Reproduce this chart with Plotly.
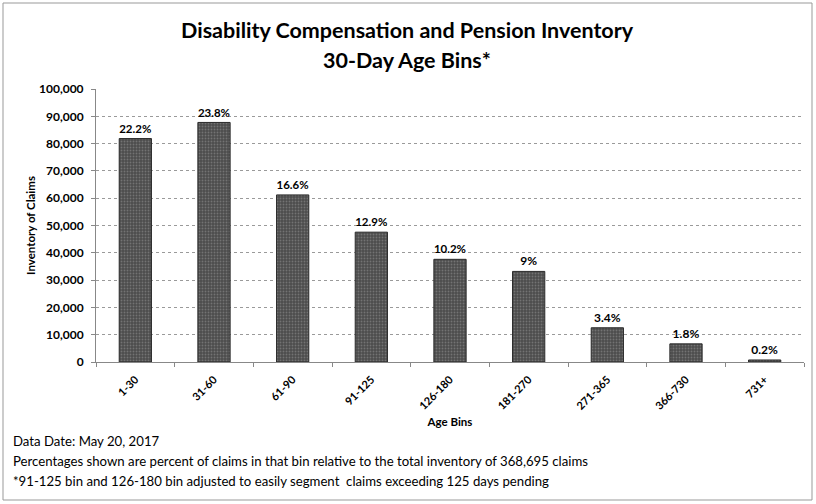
import plotly.graph_objects as go

categories = ["1-30", "31-60", "61-90", "91-125", "126-180", "181-270", "271-365", "366-730", "731+"]
claims = [81850, 87750, 61200, 47560, 37610, 33180, 12540, 6640, 740]
pct_labels = ["22.2%", "23.8%", "16.6%", "12.9%", "10.2%", "9%", "3.4%", "1.8%", "0.2%"]
y_ticks = list(range(0, 100001, 10000))
y_tick_labels = [f"{v:,}" for v in y_ticks]

W, H = 816, 504
L, R, T, B = 96, 12, 89, 142
pw, ph = W - L - R, H - T - B

def px_x(p):
    return (p - L) / pw

def px_y(p):
    return (H - B - p) / ph

FONT = "Lato"

fig = go.Figure(go.Bar(
    x=categories, y=claims, text=pct_labels, textposition="outside",
    textfont=dict(family=FONT, size=12, color="black", weight="bold"),
    cliponaxis=False, hoverinfo="skip",
    marker=dict(color="#5a5a5a", line=dict(color="#2a2a2a", width=1),
                pattern=dict(shape=".", fgcolor="#9a9a9a", bgcolor="#4c4c4c", size=3, solidity=0.3)),
))

fig.update_layout(
    width=W, height=H,
    margin=dict(l=L, r=R, t=T, b=B, autoexpand=False),
    paper_bgcolor="white", plot_bgcolor="white",
    bargap=0.59,
    showlegend=False,
    font=dict(family=FONT, color="black"),
)
fig.update_yaxes(
    range=[0, 100000], tickvals=y_ticks, ticktext=y_tick_labels,
    tickfont=dict(family=FONT, size=12, color="black", weight="bold"),
    showgrid=True, gridcolor="#9a9a9a", griddash="dot", gridwidth=1,
    showline=True, linecolor="#888888", linewidth=1,
    ticks="outside", ticklen=4, tickcolor="#888888",
    ticklabelstandoff=5,
    title=dict(text="Inventory of Claims", font=dict(family=FONT, size=11.5, color="black", weight="bold"), standoff=0),
    zeroline=False, automargin=False,
)
fig.update_xaxes(
    tickangle=-45, tickfont=dict(family=FONT, size=11, color="black", weight="bold"),
    showline=True, linecolor="#888888", linewidth=1,
    ticks="outside", tickson="boundaries", ticklen=4, tickcolor="#888888",
    ticklabelstandoff=6,
    title=dict(text="Age Bins", font=dict(family=FONT, size=11.5, color="black", weight="bold"), standoff=6),
    automargin=False,
)

fig.add_annotation(text="Disability Compensation and Pension Inventory", xref="paper", yref="paper",
                   x=px_x(407), y=px_y(30), showarrow=False, xanchor="center", yanchor="middle",
                   font=dict(family=FONT, size=21.5, color="black", weight="bold"))
fig.add_annotation(text="30-Day Age Bins*", xref="paper", yref="paper",
                   x=px_x(407), y=px_y(60), showarrow=False, xanchor="center", yanchor="middle",
                   font=dict(family=FONT, size=21.5, color="black", weight="bold"))

notes = [
    ("Data Date: May 20, 2017", 441),
    ("Percentages shown are percent of claims in that bin relative to the total inventory of 368,695 claims", 461),
    ("*91-125 bin and 126-180 bin adjusted to easily segment  claims exceeding 125 days pending", 481),
]
for txt, yy in notes:
    fig.add_annotation(text=txt, xref="paper", yref="paper", x=px_x(11), y=px_y(yy),
                       showarrow=False, xanchor="left", yanchor="middle",
                       font=dict(family=FONT, size=13.2, color="black"))

fig.add_shape(type="rect", xref="paper", yref="paper",
              x0=px_x(3), x1=px_x(812), y0=px_y(500), y1=px_y(3),
              line=dict(color="#999999", width=1), fillcolor="rgba(0,0,0,0)", layer="below")

fig.write_html("out.html", config={"displayModeBar": False},
               post_script="document.body.style.margin='0';document.body.style.overflow='hidden';")
